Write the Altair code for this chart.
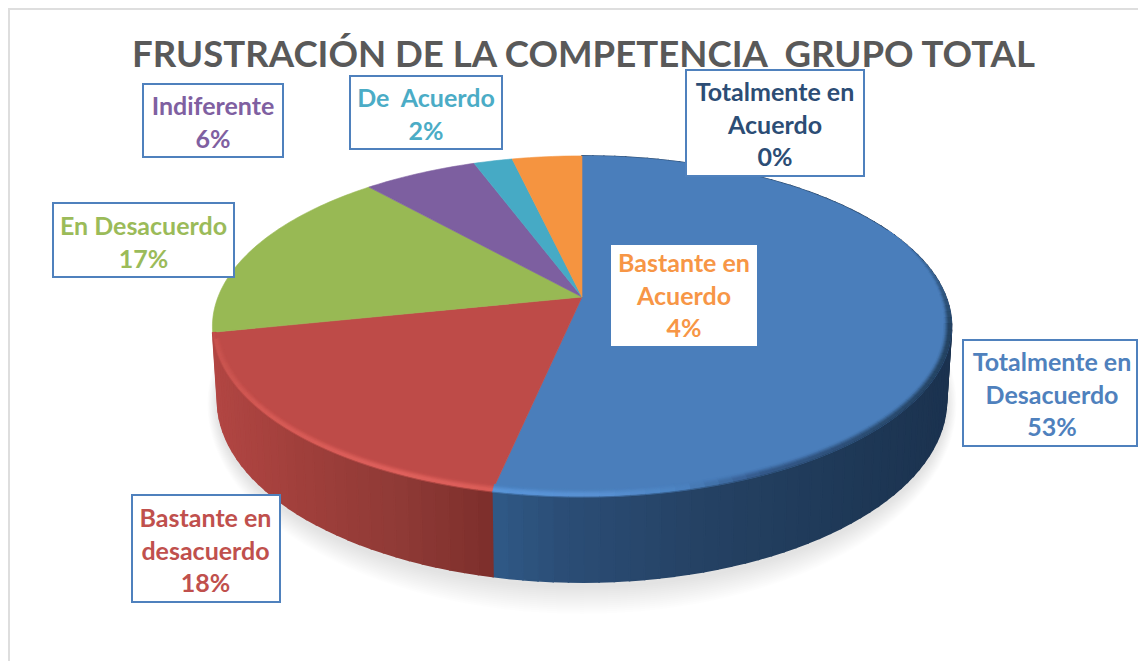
import math
import altair as alt
import pandas as pd

# ---- data ----
categories = ["Totalmente en Desacuerdo", "Bastante en desacuerdo", "En Desacuerdo",
              "Indiferente", "De Acuerdo", "Bastante en Acuerdo", "Totalmente en Acuerdo"]
share = [53.3, 18.4, 16.8, 5.9, 2.0, 3.6, 0.0]   # slice sizes
percent = [53, 18, 17, 6, 2, 4, 0]               # printed labels
top_colors = ["#4a7ebb", "#be4b48", "#98b954", "#7d5fa0", "#46aac5", "#f59440", "#2c4d75"]
text_colors = ["#4f81bd", "#c0504d", "#9bbb59", "#7f60a1", "#4bacc6", "#f79646", "#2c4d75"]
label_lines = [["Totalmente en", "Desacuerdo"], ["Bastante en", "desacuerdo"], ["En Desacuerdo"],
               ["Indiferente"], ["De\u00a0 Acuerdo"], ["Bastante en", "Acuerdo"], ["Totalmente en", "Acuerdo"]]
title_text = "FRUSTRACIÓN DE LA COMPETENCIA\u00a0 GRUPO TOTAL"

# ---- layout (page pixels) ----
box_left = [963, 132, 53, 143, 350, 611, 686]
box_right = [1137, 280, 234, 283, 502, 757, 864]
text_center = [1052, 205.5, 143.5, 213, 426, 684, 775]
box_top = [340, 495, 203, 84, 76, 245, 70]
box_bottom = [446, 602, 277, 157, 149, 346, 176]
box_border = [True, True, True, True, True, False, True]
first_line_y = [363, 519, 227, 107, 99, 264, 93]
LINE_STEP = 32.5

CX, APEX_Y = 582, 297
A, B, K = 364.0, 165.5, 0.173      # perspective disc
TOP_CY, TOP_A, TOP_B = 326.5, 370.0, 170.5
LOW_CY, LOW_A, LOW_B = 400.0, 365.0, 182.0


def rim(theta):
    s, c = math.sin(theta), math.cos(theta)
    d = 1 + K * c
    return CX + A * s / d, APEX_Y - B * c / d


def low(x, y):
    return CX + (x - CX) / TOP_A * LOW_A, LOW_CY + (y - TOP_CY) / TOP_B * LOW_B


def hex2rgb(h):
    return [int(h[i:i + 2], 16) for i in (1, 3, 5)]


def mix(c1, c2, t):
    t = min(1.0, max(0.0, t))
    a, b = hex2rgb(c1), hex2rgb(c2)
    return "#%02x%02x%02x" % tuple(round(p + (q - p) * t) for p, q in zip(a, b))


def ramp(stops, v):
    v = min(max(v, stops[0][0]), stops[-1][0])
    for (a, ca), (b, cb) in zip(stops, stops[1:]):
        if v <= b:
            return mix(ca, cb, (v - a) / (b - a) if b > a else 0)
    return stops[-1][1]


wall_ramps = {
    0: [(490, "#305a87"), (560, "#2b4d76"), (700, "#254264"), (860, "#1e3856"), (950, "#1b324f")],
    1: [(212, "#b24643"), (300, "#a03f3b"), (400, "#8f3a36"), (492, "#7c2e2b")],
}
edge_ramps = {
    0: [(490, "#5b96da"), (600, "#5a92d4"), (680, "#4d84c2"), (760, "#35598a"), (950, "#24425f")],
    1: [(212, "#c85450"), (260, "#d65b56"), (400, "#e0625e"), (492, "#dc5f5a")],
}

features = []


def add(kind, coords, fill, stroke, sw, op=1.0):
    features.append({"type": "Feature",
                     "geometry": {"type": kind, "coordinates": coords},
                     "properties": {"fill": fill, "stroke": stroke, "sw": sw, "op": op}})


# soft shadow
for i in range(14):
    g = 28 - i * 2.0
    ring = [[CX + (LOW_A + g * 0.35) * math.sin(t * math.pi / 60),
             LOW_CY + 4 + (LOW_B + g) * math.cos(t * math.pi / 60)] for t in range(121)]
    add("Polygon", [ring], "#000000", "transparent", 0, 0.009)

# slices
edges = [0.0]
for p in share:
    edges.append(edges[-1] + p / 100 * 2 * math.pi)

STEP = math.radians(1.0)
# side wall strips
for i in (0, 1):
    n = max(1, int((edges[i + 1] - edges[i]) / (2 * STEP)))
    for j in range(n):
        t0 = edges[i] + (edges[i + 1] - edges[i]) * j / n
        t1 = edges[i] + (edges[i + 1] - edges[i]) * (j + 1) / n
        p0, p1 = rim(t0), rim(t1)
        q0, q1 = low(*p0), low(*p1)
        col = ramp(wall_ramps[i], (p0[0] + p1[0]) / 2)
        add("Polygon", [[list(p0), list(p1), list(q1), list(q0), list(p0)]], col, col, 1.6)

# top faces
for i, p in enumerate(share):
    if p == 0:
        continue
    n = max(2, int((edges[i + 1] - edges[i]) / STEP))
    ring = [[CX, APEX_Y]]
    ring += [list(rim(edges[i] + (edges[i + 1] - edges[i]) * j / n)) for j in range(n + 1)]
    ring.append([CX, APEX_Y])
    add("Polygon", [ring], top_colors[i], top_colors[i], 0.6)


def inset(p, d):
    fx, fy = 1 - d / TOP_A, 1 - d / TOP_B
    return [CX + (p[0] - CX) * fx, TOP_CY + (p[1] - TOP_CY) * fy]


# soft bevel along the front rim, drawn from the inside out
DEPTH = 8.0
RINGS = 10
for i in (0, 1):
    n = max(1, int((edges[i + 1] - edges[i]) / (2 * STEP)))
    start_y, span = (235, 95) if i == 0 else (333, 12)
    for j in range(n):
        t0 = edges[i] + (edges[i + 1] - edges[i]) * j / n
        t1 = edges[i] + (edges[i + 1] - edges[i]) * (j + 1) / n
        p0, p1 = rim(t0), rim(t1)
        ymax = max(p0[1], p1[1])
        if ymax < start_y:
            continue
        xm = (p0[0] + p1[0]) / 2
        fade = min(1.0, (ymax - start_y) / span)
        edge = ramp(edge_ramps[i], xm)
        wall = ramp(wall_ramps[i], xm)
        top = top_colors[i]
        depth = DEPTH * fade
        for k in range(RINGS):
            u0, u1 = k / RINGS, (k + 1) / RINGS     # 0 = rim, 1 = inner end
            um = (u0 + u1) / 2
            if um < 0.15:
                col = mix(wall, edge, um / 0.15)
            elif um < 0.42:
                col = edge
            else:
                col = mix(edge, top, (um - 0.42) / 0.58)
            col = mix(top, col, fade) if fade < 1 else col
            a0, a1 = inset(p0, depth * u0), inset(p1, depth * u0)
            b0, b1 = inset(p0, depth * u1), inset(p1, depth * u1)
            add("Polygon", [[a0, a1, b1, b0, a0]], col, col, 0.5)

geo = alt.Chart(alt.InlineData(values={"type": "FeatureCollection", "features": features},
                               format=alt.DataFormat(property="features", type="json"))
                ).mark_geoshape(strokeCap="butt").encode(
    fill=alt.Fill("properties.fill:N", scale=None, legend=None),
    stroke=alt.Stroke("properties.stroke:N", scale=None, legend=None),
    strokeWidth=alt.StrokeWidth("properties.sw:Q", scale=None, legend=None),
    opacity=alt.Opacity("properties.op:Q", scale=None, legend=None),
).project(type="identity", scale=1, translate=[-8, -8])

xs = alt.Scale(domain=[8, 1138])
ys = alt.Scale(domain=[661, 8])
X = lambda f: alt.X(f, type="quantitative", scale=xs, axis=None)
Y = lambda f: alt.Y(f, type="quantitative", scale=ys, axis=None)

frame = alt.Chart(pd.DataFrame({"x": [9.0, 9.0, 1138.0], "y": [661.0, 9.0, 9.0], "o": [0, 1, 2]})).mark_line(
    color="#dedede", strokeWidth=2).encode(x=X("x"), y=Y("y"), order=alt.Order("o:Q"))

boxes = pd.DataFrame({"x": box_left, "x2": box_right, "y": box_top, "y2": box_bottom, "b": box_border})
plain = alt.Chart(boxes[~boxes.b]).mark_rect(fill="white").encode(
    x=X("x"), x2="x2", y=Y("y"), y2="y2")
framed = alt.Chart(boxes[boxes.b]).mark_rect(fill="white", stroke="#4f81bd", strokeWidth=2).encode(
    x=X("x"), x2="x2", y=Y("y"), y2="y2")

rows = []
for i, name in enumerate(categories):
    lines = label_lines[i] + [f"{percent[i]}%"]
    for j, t in enumerate(lines):
        rows.append({"x": text_center[i], "y": first_line_y[i] + j * LINE_STEP, "t": t, "c": text_colors[i]})
labels = alt.Chart(pd.DataFrame(rows)).mark_text(
    font="Lato", fontWeight="bold", fontSize=25, align="center", baseline="middle").encode(
    x=X("x"), y=Y("y"), text="t:N", color=alt.Color("c:N", scale=None, legend=None))

title = alt.Chart(pd.DataFrame({"x": [583.5], "y": [55.5], "t": [title_text]})).mark_text(
    font="Lato", fontWeight="bold", fontSize=36.6, color="#595959", align="center", baseline="middle").encode(
    x=X("x"), y=Y("y"), text="t:N")

chart = alt.layer(geo, frame, plain, framed, labels, title).properties(
    width=1130, height=653, padding=0, autosize=alt.AutoSizeParams(type="none")
).resolve_scale(x="shared", y="shared").configure_view(stroke=None)

chart.save("out.html", embed_options={"renderer": "svg", "actions": False})
